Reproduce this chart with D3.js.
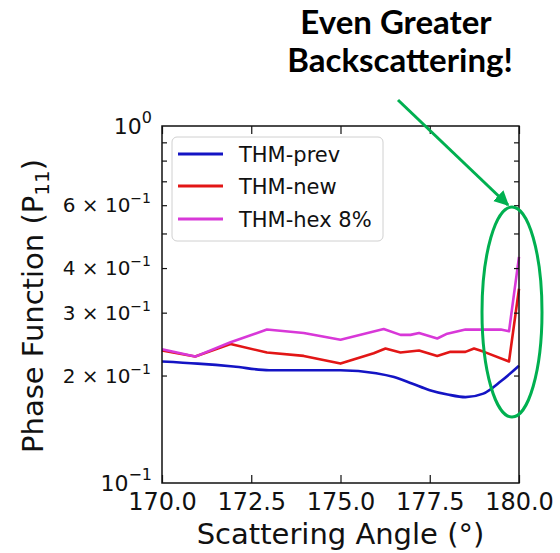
<!DOCTYPE html>
<html>
<head>
<meta charset="utf-8">
<script src="https://d3js.org/d3.v7.min.js"></script>
<style>
  body { margin: 0; background: #fff; }
  svg { display: block; }
</style>
</head>
<body>
<div id="chart"></div>
<script>
// Data
const seriesNames = ["THM-prev", "THM-new", "THM-hex 8%"];
const seriesColors = ["#1414c4", "#e21616", "#d838d8"];

const prevAngles = [170, 171, 172, 173, 174, 175, 176, 176.5, 177, 177.5, 178, 178.5, 179, 179.5, 180];
const prevValues = [0.219, 0.216, 0.212, 0.207, 0.207, 0.207, 0.203, 0.198, 0.190, 0.182, 0.177, 0.174, 0.178, 0.193, 0.213];

const newAngles = [170, 170.93, 171.92, 172.94, 173.97, 175, 175.93, 176.26, 176.68, 177.2, 177.71, 178.08, 178.5, 178.74, 179.02, 179.72, 180];
const newValues = [0.235, 0.226, 0.245, 0.232, 0.227, 0.216, 0.231, 0.238, 0.232, 0.235, 0.227, 0.233, 0.233, 0.238, 0.233, 0.219, 0.35];

const hexAngles = [170, 170.93, 171.92, 172.94, 173.97, 175, 176.21, 176.68, 176.96, 177.2, 177.71, 177.99, 178.5, 179.49, 179.72, 180];
const hexValues = [0.237, 0.226, 0.248, 0.269, 0.263, 0.252, 0.270, 0.260, 0.260, 0.263, 0.254, 0.262, 0.269, 0.269, 0.266, 0.43];

const xTicks = [170, 172.5, 175, 177.5, 180];
const yMinorTicks = [0.2, 0.3, 0.4, 0.5, 0.6, 0.7, 0.8, 0.9];
const yMinorLabels = [[0.2, "2"], [0.3, "3"], [0.4, "4"], [0.6, "6"]];
const yMajorLabels = [[0.1, "\u22121"], [1, "0"]];

const W = 560, H = 553;
const plot = { left: 162, right: 519, top: 126, bottom: 483 };
const font = "'DejaVu Sans', sans-serif";

const svg = d3.select("#chart").append("svg")
    .attr("width", W)
    .attr("height", H);

const x = d3.scaleLinear().domain([170, 180]).range([plot.left, plot.right]);
const y = d3.scaleLog().domain([0.1, 1]).range([plot.bottom, plot.top]);

// Series lines
const series = [
    { angles: prevAngles, values: prevValues, curve: d3.curveMonotoneX },
    { angles: newAngles, values: newValues, curve: d3.curveLinear },
    { angles: hexAngles, values: hexValues, curve: d3.curveLinear }
];

const line = d3.line();
series.forEach((s, i) => {
    const pts = s.angles.map((a, k) => [x(a), y(s.values[k])]);
    svg.append("path")
        .attr("d", line.curve(s.curve)(pts))
        .attr("fill", "none")
        .attr("stroke", seriesColors[i])
        .attr("stroke-width", 2.6)
        .attr("stroke-linejoin", "round");
});

// Ticks (inward, on all sides)
const xBottom = svg.append("g")
    .attr("transform", `translate(0,${plot.bottom})`)
    .call(d3.axisBottom(x).tickValues(xTicks).tickSize(-8).tickFormat(d3.format(".1f")));
const xTop = svg.append("g")
    .attr("transform", `translate(0,${plot.top})`)
    .call(d3.axisTop(x).tickValues(xTicks).tickSize(-8).tickFormat(""));
const yLeft = svg.append("g")
    .attr("transform", `translate(${plot.left},0)`)
    .call(d3.axisLeft(y).tickValues(yMinorTicks).tickSize(-5).tickFormat(""));
const yRight = svg.append("g")
    .attr("transform", `translate(${plot.right},0)`)
    .call(d3.axisRight(y).tickValues(yMinorTicks).tickSize(-5).tickFormat(""));

[xBottom, xTop, yLeft, yRight].forEach(g => {
    g.select(".domain").remove();
    g.selectAll(".tick line").attr("stroke", "#111").attr("stroke-width", 1.2);
});
xBottom.selectAll(".tick text")
    .attr("font-family", font)
    .attr("font-size", 24)
    .attr("fill", "#111")
    .attr("y", 10)
    .attr("dy", "0.71em");

// Frame
svg.append("rect")
    .attr("x", plot.left)
    .attr("y", plot.top)
    .attr("width", plot.right - plot.left)
    .attr("height", plot.bottom - plot.top)
    .attr("fill", "none")
    .attr("stroke", "#111")
    .attr("stroke-width", 1.5);

// Y tick labels
yMinorLabels.forEach(([v, m]) => {
    const t = svg.append("text")
        .attr("x", 151)
        .attr("y", y(v) + 7)
        .attr("text-anchor", "end")
        .attr("font-family", font)
        .attr("font-size", 20)
        .attr("fill", "#111")
        .attr("xml:space", "preserve");
    t.append("tspan").text(m + " \u00d7 10");
    t.append("tspan").attr("dy", -9).attr("font-size", 14).text("\u22121");
});
yMajorLabels.forEach(([v, e]) => {
    const t = svg.append("text")
        .attr("x", 152)
        .attr("y", y(v) + 8)
        .attr("text-anchor", "end")
        .attr("font-family", font)
        .attr("font-size", 22)
        .attr("fill", "#111");
    t.append("tspan").text("10");
    t.append("tspan").attr("dy", -11).attr("font-size", 16).text(e);
});

// Axis labels
svg.append("text")
    .attr("x", (plot.left + plot.right) / 2)
    .attr("y", 544)
    .attr("text-anchor", "middle")
    .attr("font-family", font)
    .attr("font-size", 29)
    .attr("fill", "#111")
    .text("Scattering Angle (\u00b0)");

const yl = svg.append("text")
    .attr("transform", "translate(43,306) rotate(-90)")
    .attr("text-anchor", "middle")
    .attr("font-family", font)
    .attr("font-size", 29)
    .attr("fill", "#111");
yl.append("tspan").text("Phase Function (P");
yl.append("tspan").attr("dy", 6).attr("font-size", 20).text("11");
yl.append("tspan").attr("dy", -6).text(")");

// Legend
const legend = svg.append("g");
legend.append("rect")
    .attr("x", 172)
    .attr("y", 137)
    .attr("width", 211)
    .attr("height", 104)
    .attr("rx", 5)
    .attr("fill", "#fff")
    .attr("fill-opacity", 0.85)
    .attr("stroke", "#d0d0d0")
    .attr("stroke-width", 1);
const rowY = [154, 186, 219];
seriesNames.forEach((name, i) => {
    legend.append("line")
        .attr("x1", 178).attr("x2", 223)
        .attr("y1", rowY[i]).attr("y2", rowY[i])
        .attr("stroke", seriesColors[i])
        .attr("stroke-width", 2.8);
    legend.append("text")
        .attr("x", 239)
        .attr("y", rowY[i] + 7.5)
        .attr("font-family", font)
        .attr("font-size", 21)
        .attr("fill", "#111")
        .text(name);
});

// Annotation
const green = "#00b050";
svg.append("defs").append("marker")
    .attr("id", "arrow")
    .attr("viewBox", "0 0 10 10")
    .attr("refX", 9)
    .attr("refY", 5)
    .attr("markerWidth", 5)
    .attr("markerHeight", 5)
    .attr("markerUnits", "strokeWidth")
    .attr("orient", "auto")
    .append("path")
    .attr("d", "M0,0 L10,5 L0,10 z")
    .attr("fill", green);

svg.append("line")
    .attr("x1", 398).attr("y1", 100)
    .attr("x2", 508).attr("y2", 205)
    .attr("stroke", green)
    .attr("stroke-width", 3)
    .attr("marker-end", "url(#arrow)");

svg.append("ellipse")
    .attr("cx", 512)
    .attr("cy", 312)
    .attr("rx", 30)
    .attr("ry", 105)
    .attr("fill", "none")
    .attr("stroke", green)
    .attr("stroke-width", 3);

const title = svg.append("text")
    .attr("text-anchor", "middle")
    .attr("font-family", "Lato, 'Open Sans', sans-serif")
    .attr("font-weight", 700)
    .attr("font-size", 33)
    .attr("fill", "#000");
title.append("tspan").attr("x", 396).attr("y", 34).text("Even Greater");
title.append("tspan").attr("x", 400).attr("y", 72).text("Backscattering!");
</script>
</body>
</html>
